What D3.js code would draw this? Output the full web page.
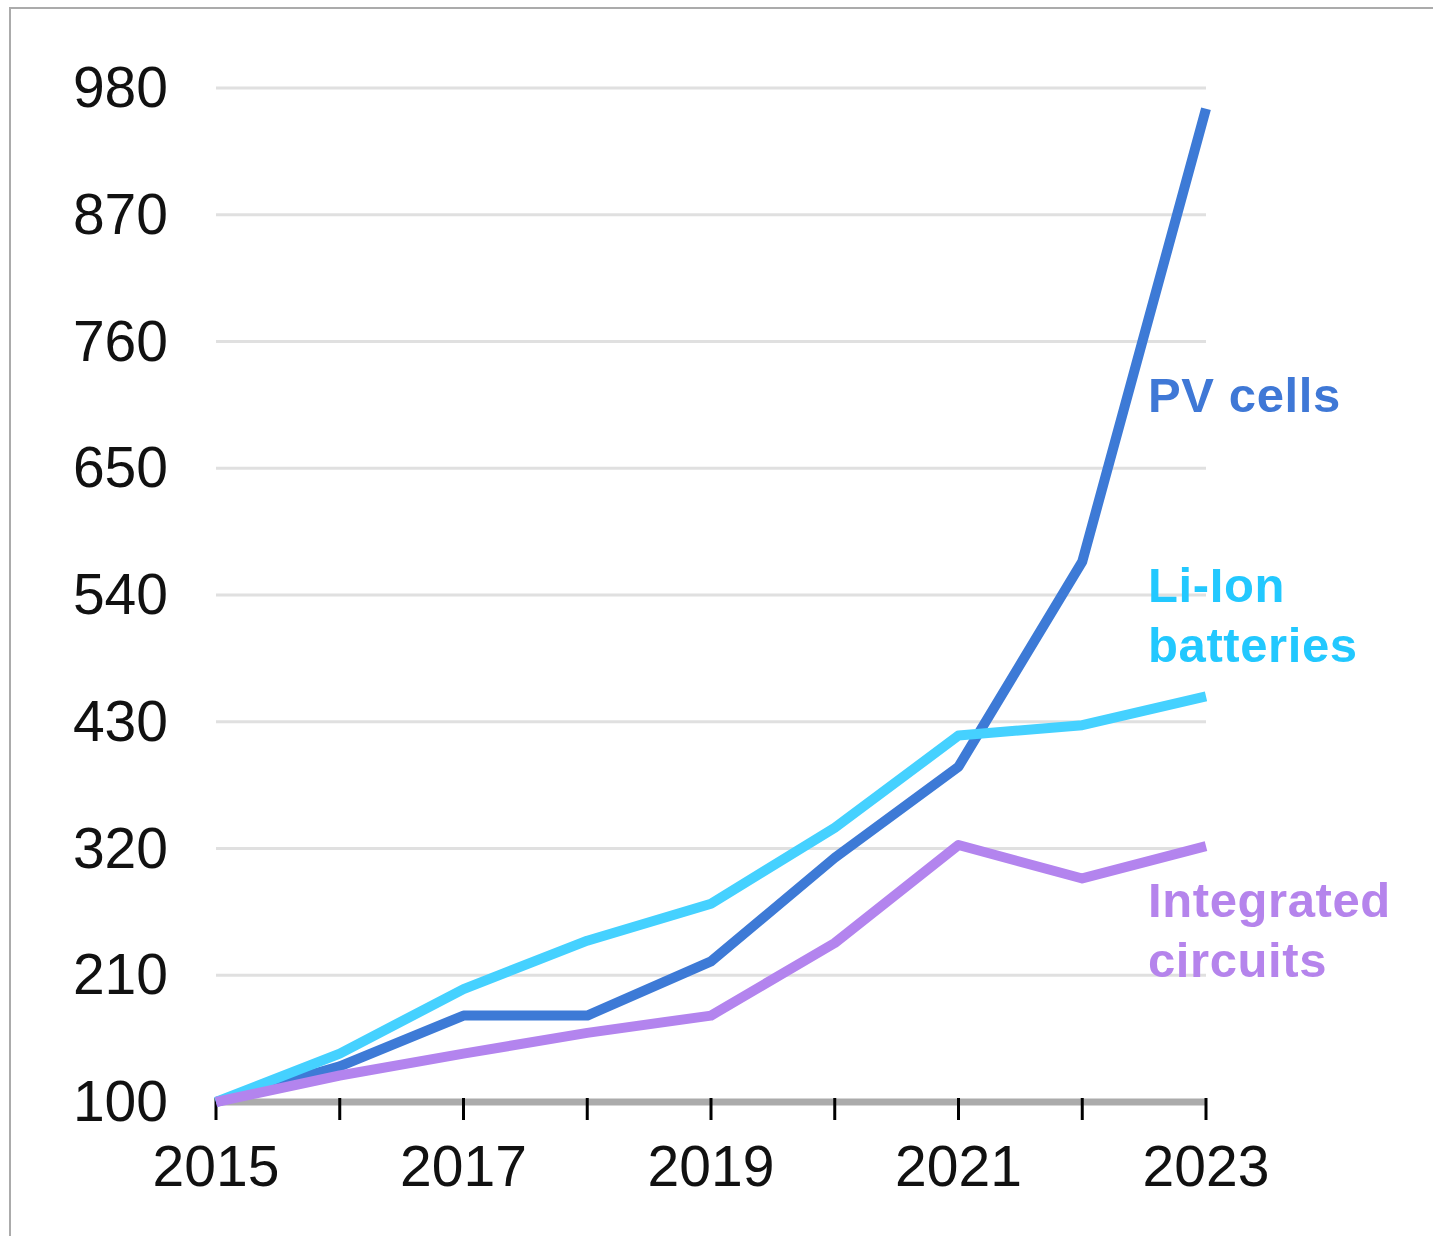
<!DOCTYPE html>
<html>
<head>
<meta charset="utf-8">
<script src="https://cdn.jsdelivr.net/npm/d3@7"></script>
<style>
  body { margin: 0; background: #fff; }
  svg { display: block; }
</style>
</head>
<body>
<div id="chart"></div>
<script>
// data (index, 2015 = 100)
var years = [2015, 2016, 2017, 2018, 2019, 2020, 2021, 2022, 2023];
var yearLabels = [2015, 2017, 2019, 2021, 2023];
var yTicks = [100, 210, 320, 430, 540, 650, 760, 870, 980];
var pvCells = [100, 131, 175, 175, 222, 312, 391, 569, 962];
var liIon = [100, 142, 198, 240, 272, 338, 418, 427, 452];
var integratedCircuits = [100, 123, 142, 160, 175, 238, 323, 294, 322];

var series = [
    {name: ["PV cells"], values: pvCells, color: "#3d7ad6", text: "#3f78d6", labelY: 412},
    {name: ["Li-Ion", "batteries"], values: liIon, color: "#45d1ff", text: "#22c8ff", labelY: 602},
    {name: ["Integrated", "circuits"], values: integratedCircuits, color: "#b384ee", text: "#b584ec", labelY: 917}
];

var w = 1433;
var h = 1236;

var svg = d3.select("#chart")
            .append("svg")
            .attr("width", w)
            .attr("height", h);

// frame round the chart
svg.append("rect")
    .attr("x", 10)
    .attr("y", 8)
    .attr("width", 1500)
    .attr("height", 1400)
    .attr("fill", "none")
    .attr("stroke", "#ababab")
    .attr("stroke-width", 2);

var xScale = d3.scaleLinear()
                .domain([2015, 2023])
                .range([216, 1206]);

var yScale = d3.scaleLinear()
                .domain([100, 980])
                .range([1102, 88]);

// gridlines
svg.append("g")
    .selectAll("line")
    .data(yTicks.slice(1))
    .enter()
    .append("line")
    .attr("x1", xScale(2015))
    .attr("x2", xScale(2023))
    .attr("y1", function(d) { return yScale(d); })
    .attr("y2", function(d) { return yScale(d); })
    .attr("stroke", "#e0e0e0")
    .attr("stroke-width", 3);

// y labels
svg.append("g")
    .attr("font-family", "Liberation Sans, Arial, sans-serif")
    .attr("font-size", "57px")
    .attr("fill", "#111")
    .attr("text-anchor", "end")
    .selectAll("text")
    .data(yTicks)
    .enter()
    .append("text")
    .attr("x", 168)
    .attr("y", function(d) { return yScale(d) + 19; })
    .text(function(d) { return d; });

// x axis baseline + ticks
svg.append("line")
    .attr("x1", xScale(2015))
    .attr("x2", xScale(2023))
    .attr("y1", yScale(100))
    .attr("y2", yScale(100))
    .attr("stroke", "#ababab")
    .attr("stroke-width", 7);

svg.append("g")
    .selectAll("line")
    .data(years)
    .enter()
    .append("line")
    .attr("x1", function(d) { return xScale(d); })
    .attr("x2", function(d) { return xScale(d); })
    .attr("y1", 1098)
    .attr("y2", 1120)
    .attr("stroke", "#000")
    .attr("stroke-width", 3);

svg.append("g")
    .attr("font-family", "Liberation Sans, Arial, sans-serif")
    .attr("font-size", "57px")
    .attr("fill", "#111")
    .attr("text-anchor", "middle")
    .selectAll("text")
    .data(yearLabels)
    .enter()
    .append("text")
    .attr("x", function(d) { return xScale(d); })
    .attr("y", 1186)
    .text(function(d) { return d; });

// the lines
var line = d3.line()
            .x(function(d, i) { return xScale(years[i]); })
            .y(function(d) { return yScale(d); });

svg.append("g")
    .selectAll("path")
    .data(series)
    .enter()
    .append("path")
    .attr("d", function(d) { return line(d.values); })
    .attr("fill", "none")
    .attr("stroke", function(d) { return d.color; })
    .attr("stroke-width", 10)
    .attr("stroke-linejoin", "round");

// series labels
var labels = svg.append("g")
                .attr("font-family", "Liberation Sans, Arial, sans-serif")
                .attr("font-weight", "bold")
                .attr("font-size", "49px")
                .attr("letter-spacing", "0.6px")
                .selectAll("text")
                .data(series)
                .enter()
                .append("text")
                .attr("x", 1148)
                .attr("y", function(d) { return d.labelY; })
                .attr("fill", function(d) { return d.text; });

labels.selectAll("tspan")
    .data(function(d) { return d.name; })
    .enter()
    .append("tspan")
    .attr("x", 1148)
    .attr("dy", function(d, i) { return i == 0 ? 0 : 60; })
    .text(function(d) { return d; });
</script>
</body>
</html>
